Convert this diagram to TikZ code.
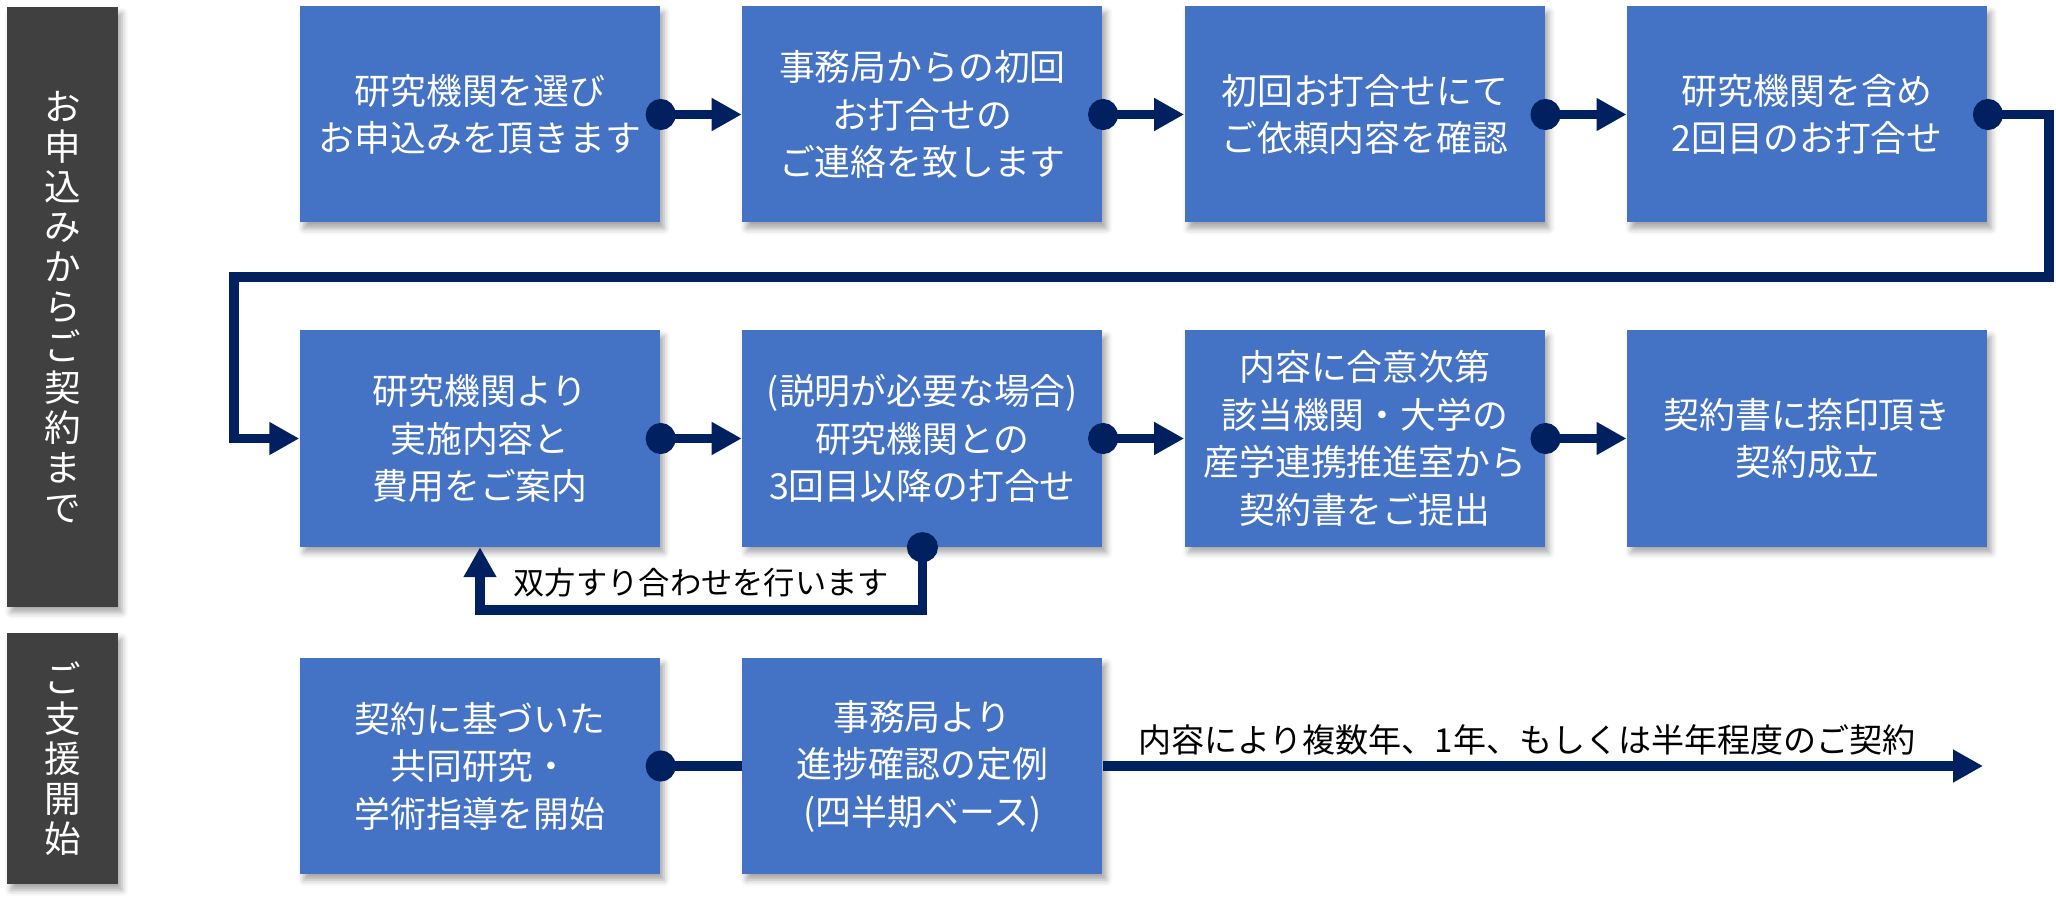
\documentclass[tikz,border=0pt]{standalone}
\usepackage{fontspec}
\setmainfont{Noto Sans CJK JP}
\usepackage{xcolor}
\usetikzlibrary{arrows.meta, positioning, shadows.blur}
\definecolor{boxblue}{RGB}{68,114,196}
\definecolor{bargray}{RGB}{64,64,64}
\definecolor{flownavy}{RGB}{0,32,96}

\begin{document}
\begin{tikzpicture}[every node/.style={font=\fontsize{10.2}{13.5}\selectfont},
    node distance=0.81cm,
    boxshadow/.style={blur shadow={shadow xshift=0.04cm, shadow yshift=-0.06cm, shadow blur radius=0.06cm, shadow opacity=35}},
    stepbox/.style={rectangle, fill=boxblue, text=white, minimum width=3.6cm, minimum height=2.16cm, inner sep=0pt, align=center, boxshadow},
    sidebar/.style={rectangle, fill=bargray, text=white, minimum width=1.11cm, inner sep=0pt, align=center, font=\fontsize{10.4}{11.4}\selectfont, boxshadow},
    flow/.style={draw=flownavy, line width=2.6pt, {Circle[length=3mm, width=3.1mm]}-{Triangle[length=3mm, width=3.1mm]}, shorten <=-1.5mm},
    link/.style={draw=flownavy, line width=2.6pt, {Circle[length=3mm, width=3.1mm]}-, shorten <=-1.5mm},
    note/.style={text=black, inner sep=0pt}]
  \useasboundingbox (0,0) rectangle (20.56,-9.07);

  % side bars
  \node[sidebar, minimum height=5.99cm] (bar1) at (0.625,-3.07) {お\\申\\込\\み\\か\\ら\\ご\\契\\約\\ま\\で};
  \node[sidebar, minimum height=2.51cm] (bar2) at (0.625,-7.585) {ご\\支\\援\\開\\始};

  % row 1
  \node[stepbox] (b1) at (4.80,-1.145) {研究機関を選び\\お申込みを頂きます};
  \node[stepbox, right=of b1] (b2) {事務局からの初回\\お打合せの\\ご連絡を致します};
  \node[stepbox, right=of b2] (b3) {初回お打合せにて\\ご依頼内容を確認};
  \node[stepbox, right=of b3] (b4) {研究機関を含め\\2回目のお打合せ};

  % row 2
  \node[stepbox] (b5) at (4.80,-4.385) {研究機関より\\実施内容と\\費用をご案内};
  \node[stepbox, right=of b5] (b6) {(説明が必要な場合)\\研究機関との\\3回目以降の打合せ};
  \node[stepbox, right=of b6] (b7) {内容に合意次第\\該当機関・大学の\\産学連携推進室から\\契約書をご提出};
  \node[stepbox, right=of b7] (b8) {契約書に捺印頂き\\契約成立};

  % row 3
  \node[stepbox] (b9) at (4.80,-7.66) {契約に基づいた\\共同研究・\\学術指導を開始};
  \node[stepbox, right=of b9] (b10) {事務局より\\進捗確認の定例\\(四半期ベース)};

  \coordinate (turnR) at (20.49,-2.77);
  \coordinate (turnL) at (2.34,-2.77);
  \coordinate (goal) at (19.83,-7.66);

  \draw[flow] (b1) -- (b2);
  \draw[flow] (b2) -- (b3);
  \draw[flow] (b3) -- (b4);
  \draw[flow] (b4.east) -| (turnR) -- (turnL) |- (b5.west);
  \draw[flow] (b5) -- (b6);
  \draw[flow] (b6) -- (b7);
  \draw[flow] (b7) -- (b8);
  \draw[flow] (b6.south) -- (b6.south |- 0,-6.10) -| (b5.south);
  \node[note, font=\fontsize{8.9}{10}\selectfont, anchor=west] (fbnote) at (5.13,-5.83) {双方すり合わせを行います};

  \draw[link] (b9) -- (b10);
  \draw[flow, {}-{Triangle[length=3mm, width=3.1mm]}, shorten <=0pt] (b10.east) -- (goal);
  \node[note, font=\fontsize{9.4}{11}\selectfont] (term) at (15.27,-7.40) {内容により複数年、1年、もしくは半年程度のご契約};
\end{tikzpicture}
\end{document}
